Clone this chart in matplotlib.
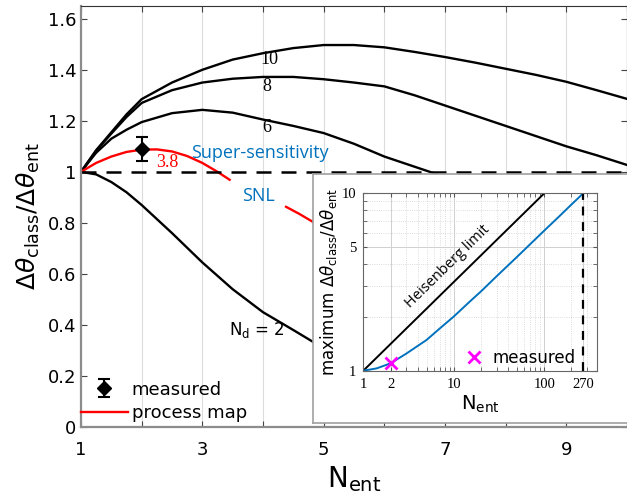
import matplotlib.pyplot as plt
import numpy as np
from matplotlib.ticker import FixedLocator, FuncFormatter, NullFormatter

# main panel: ratio vs N_ent for several N_d
n_ent = [1, 1.25, 1.5, 1.75, 2, 2.5, 3, 3.5, 4, 4.5, 5, 5.5, 6, 6.5, 7, 7.5, 8, 8.5, 9, 9.5, 10]
ratio_nd10 = [1.0, 1.085, 1.155, 1.225, 1.285, 1.35, 1.40, 1.44, 1.465, 1.485, 1.497, 1.497,
              1.488, 1.47, 1.45, 1.428, 1.404, 1.38, 1.353, 1.32, 1.286]
ratio_nd8 = [1.0, 1.083, 1.15, 1.215, 1.27, 1.32, 1.35, 1.365, 1.372, 1.372, 1.363, 1.35,
             1.335, 1.30, 1.26, 1.22, 1.18, 1.14, 1.10, 1.065, 1.027]
n_ent_nd6 = [1, 1.25, 1.5, 1.75, 2, 2.5, 3, 3.5, 4, 4.5, 5, 5.5, 6, 6.5, 7]
ratio_nd6 = [1.0, 1.075, 1.13, 1.165, 1.195, 1.23, 1.243, 1.232, 1.205, 1.18, 1.152, 1.11,
             1.06, 1.02, 0.98]
n_ent_nd2 = [1, 1.25, 1.5, 1.75, 2, 2.5, 3, 3.5, 4, 4.5, 4.85]
ratio_nd2 = [1.0, 0.99, 0.96, 0.92, 0.87, 0.76, 0.645, 0.54, 0.45, 0.38, 0.33]
n_ent_map = [1, 1.25, 1.5, 1.75, 2, 2.25, 2.5, 2.75, 3, 3.25, 3.45, np.nan, 4.38, 4.6, 4.85]
ratio_map = [1.0, 1.035, 1.06, 1.078, 1.087, 1.088, 1.08, 1.062, 1.035, 1.0, 0.969, np.nan,
             0.863, 0.835, 0.80]
measured_n = [2]
measured_ratio = [1.09]
measured_err = [0.047]

# inset: maximum ratio vs N_ent
inset_n = [1, 1.4, 2, 3, 5, 7, 10, 15, 20, 30, 50, 70, 100, 150, 200, 270]
inset_max = [1.0, 1.03, 1.10, 1.25, 1.49, 1.73, 2.02, 2.45, 2.8, 3.42, 4.38, 5.17, 6.16, 7.5, 8.65, 10.0]
heisenberg_n = [1, 100]
heisenberg_max = [1, 10]
inset_meas_n = [2]
inset_meas_max = [1.1]

BLUE = "#0072BD"
GREY = "#8c8c8c"

fig = plt.figure(figsize=(6.27, 5.01), dpi=100)
ax = fig.add_axes([81 / 627, 1 - 427 / 501, 1 - 81 / 627, (427 - 6) / 501])

for x in range(2, 10):
    ax.axvline(x, color="#dcdcdc", lw=0.8, zorder=0)

ax.plot(n_ent, ratio_nd10, color="k", lw=1.7)
ax.plot(n_ent, ratio_nd8, color="k", lw=1.7)
ax.plot(n_ent_nd6, ratio_nd6, color="k", lw=1.7)
ax.plot(n_ent_nd2, ratio_nd2, color="k", lw=1.7)
map_line, = ax.plot(n_ent_map, ratio_map, color="red", lw=1.7, label="process map")
ax.axhline(1, color="k", lw=1.8, dashes=(6, 4))
meas = ax.errorbar(measured_n, measured_ratio, yerr=measured_err, fmt="D", color="k",
                   ms=7, capsize=4, elinewidth=1.5, capthick=1.5, label="measured")

serif_kw = dict(fontsize=13, family="Liberation Serif", ha="center", va="center")
ax.text(4.11, 1.439, "10", **serif_kw)
ax.text(4.06, 1.333, "8", **serif_kw)
ax.text(4.06, 1.173, "6", **serif_kw)
ax.text(2.42, 1.035, "3.8", color="red", **serif_kw)
ax.text(3.95, 1.075, "Super-sensitivity", fontsize=13, family="Open Sans", color=BLUE,
        ha="center", va="center")
ax.text(3.92, 0.906, "SNL", fontsize=13, family="Open Sans", color=BLUE,
        ha="center", va="center")
ax.text(3.9, 0.38, r"N$_{\rm d}$ = 2", fontsize=12, ha="center", va="center")

ax.set_xlim(1, 10)
ax.set_ylim(0, 1.65)
ax.xaxis.set_major_locator(FixedLocator(range(1, 11)))
ax.xaxis.set_major_formatter(FuncFormatter(lambda v, p: f"{int(v)}" if int(v) % 2 == 1 else ""))
ax.yaxis.set_major_locator(FixedLocator(np.arange(0, 1.61, 0.2)))
ax.yaxis.set_major_formatter(FuncFormatter(lambda v, p: f"{v:g}"))
ax.tick_params(direction="in", top=True, right=True, labelsize=13, length=4, color="#444444")
ax.tick_params(axis="x", pad=10)
for s in ["left", "bottom"]:
    ax.spines[s].set_color(GREY)
    ax.spines[s].set_linewidth(1.6)
ax.spines["top"].set_color("#333333")
ax.set_xlabel(r"N$_{\rm ent}$", fontsize=20, labelpad=4)
ax.set_ylabel(r"$\Delta\theta_{\rm class}/\Delta\theta_{\rm ent}$", fontsize=18, labelpad=4)

ax.legend(handles=[meas, map_line], loc="lower left", bbox_to_anchor=(0.0, 0.012),
          frameon=False, fontsize=13, handlelength=2.6, handletextpad=0.2,
          borderaxespad=0, borderpad=0, labelspacing=0.3)

# inset background box
box = fig.add_axes([313 / 627, 1 - 423 / 501, 1 - 313 / 627 + 0.01, (423 - 174) / 501], zorder=2)
box.set_xticks([])
box.set_yticks([])
for s in box.spines.values():
    s.set_color("#a0a0a0")
    s.set_linewidth(1.2)

ins = fig.add_axes([363.3 / 627, 1 - 370.7 / 501, (596.7 - 363.3) / 627, (370.7 - 193.3) / 501],
                   zorder=3)
ins.set_xscale("log")
ins.set_yscale("log")
ins.plot(heisenberg_n, heisenberg_max, color="k", lw=1.4)
ins.plot(inset_n, inset_max, color=BLUE, lw=1.4)
ins.plot([270, 270], [1, 10], color="k", lw=1.6, dashes=(4, 3))
ins_meas, = ins.plot(inset_meas_n, inset_meas_max, "x", color="magenta", ms=8, mew=2,
                     label="measured", ls="none")
ins.text(8.5, 3.86, "Heisenberg limit", rotation=44.4, fontsize=10.5, family="Open Sans",
         ha="center", va="center", rotation_mode="anchor")
ins.set_xlim(1, 380)
ins.set_ylim(1, 10)
ins.xaxis.set_major_locator(FixedLocator([1, 2, 10, 100, 270]))
ins.xaxis.set_major_formatter(FuncFormatter(lambda v, p: f"{v:g}"))
ins.xaxis.set_minor_locator(FixedLocator([3, 4, 5, 6, 7, 8, 9, 20, 30, 40, 50, 60, 70, 80, 90, 200, 300]))
ins.xaxis.set_minor_formatter(NullFormatter())
ins.yaxis.set_major_locator(FixedLocator([1, 5, 10]))
ins.yaxis.set_major_formatter(FuncFormatter(lambda v, p: f"{v:g}"))
ins.yaxis.set_minor_locator(FixedLocator([2, 3, 4, 6, 7, 8, 9]))
ins.yaxis.set_minor_formatter(NullFormatter())
ins.grid(True, which="major", color="#d0d0d0", lw=0.7)
ins.grid(True, which="minor", color="#d0d0d0", lw=0.6, ls=":")
ins.tick_params(which="both", direction="in", top=True, right=True, length=3, color="#555555")
ins.tick_params(labelsize=10.5, pad=5)
for lab in ins.get_xticklabels() + ins.get_yticklabels():
    lab.set_family("Liberation Serif")
for s in ins.spines.values():
    s.set_color("#666666")
    s.set_linewidth(0.8)
ins.set_xlabel(r"N$_{\rm ent}$", fontsize=14, labelpad=2)
ins.set_ylabel(r"maximum $\Delta\theta_{\rm class}/\Delta\theta_{\rm ent}$", fontsize=12, labelpad=2)
ins.legend(handles=[ins_meas], loc="lower left", bbox_to_anchor=(0.44, 0.02), frameon=False,
           fontsize=12, handlelength=1.0, handletextpad=0.6, borderaxespad=0, borderpad=0)

fig.savefig("out.png", dpi=100)
